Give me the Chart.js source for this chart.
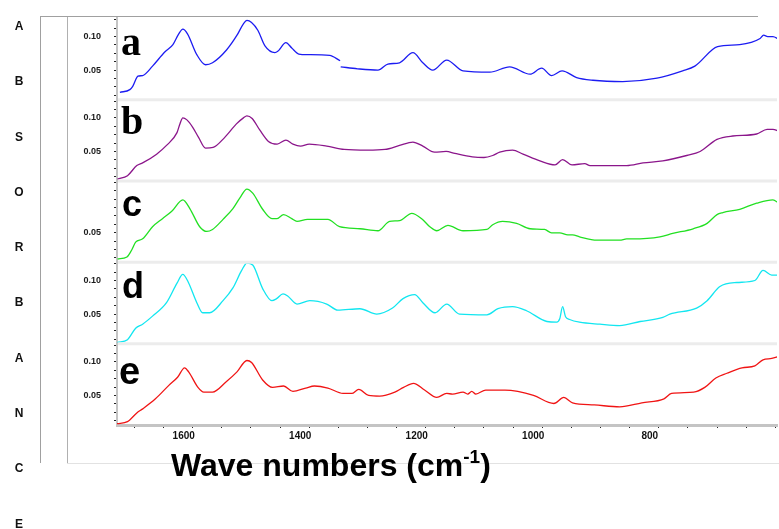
<!DOCTYPE html>
<html>
<head>
<meta charset="utf-8">
<script src="https://cdn.jsdelivr.net/npm/chart.js@4.4.1/dist/chart.umd.min.js"></script>
<style>
  body { margin:0; width:779px; height:529px; position:relative; background:#fff; overflow:hidden; font-family: Arial, "Liberation Sans", sans-serif; }
  #spectra { position:absolute; left:0; top:0; }
  .ln { position:absolute; }
  .panel { position:absolute; font-weight:bold; color:#000; white-space:nowrap; }
  .serif { font-family: "Times New Roman", "Liberation Serif", serif; font-size:40px; line-height:40px; }
  .sans { font-family: Arial, "Liberation Sans", sans-serif; }
  #ylab { position:absolute; left:9px; top:-1px; width:20px; text-align:center; font-weight:bold; font-size:12px; line-height:55.3px; color:#111; }
  #xlab { position:absolute; left:171px; top:449px; font-weight:bold; font-size:32px; line-height:32px; color:#000; white-space:nowrap; }
  #xlab sup { font-size:19px; position:relative; top:-2px; vertical-align:top; line-height:19px; }
</style>
</head>
<body>
<canvas id="spectra" width="779" height="529"></canvas>

<!-- frame lines -->
<div class="ln" style="left:40px;top:16px;width:1px;height:447px;background:#a0a0a0"></div>
<div class="ln" style="left:67px;top:16px;width:1px;height:447px;background:#b0b0b0"></div>
<div class="ln" style="left:40px;top:16px;width:718px;height:1px;background:#a0a0a0"></div>
<div class="ln" style="left:67px;top:463px;width:712px;height:1px;background:#e2e2e2"></div>

<div id="ylab">A<br>B<br>S<br>O<br>R<br>B<br>A<br>N<br>C<br>E</div>

<div class="panel serif" style="left:121px;top:22px">a</div>
<div class="panel serif" style="left:121px;top:101px">b</div>
<div class="panel sans" style="left:122px;top:186px;font-size:36px;line-height:36px">c</div>
<div class="panel sans" style="left:122px;top:268px;font-size:36px;line-height:36px">d</div>
<div class="panel sans" style="left:119px;top:352px;font-size:38px;line-height:38px">e</div>

<div id="xlab">Wave numbers (cm<sup>-1</sup>)</div>

<script>
// wavenumbers (cm-1) and absorbance
var waveA = [1725,1708,1703,1694,1686,1669,1648,1634,1624,1617,1609,1593,1578,1566,1542,1524,1513,1507,1499,1488,1476,1459,1454,1440,1430,1418,1403,1365,1347,1346.5,1346,1317,1282,1265,1245,1222,1205,1188,1164,1136,1090,1056,1021,1001,984,966,941,913,862,803,759,738,699,661,626,620,613,604,594];
var absA  = [0.017,0.021,0.026,0.041,0.042,0.056,0.077,0.088,0.104,0.111,0.104,0.073,0.058,0.061,0.080,0.102,0.119,0.124,0.121,0.109,0.086,0.076,0.078,0.091,0.083,0.074,0.073,0.072,0.064,null,0.055,0.052,0.050,0.059,0.061,0.076,0.061,0.050,0.065,0.049,0.047,0.055,0.044,0.053,0.042,0.049,0.039,0.035,0.033,0.038,0.049,0.056,0.085,0.088,0.097,0.102,0.100,0.100,0.096];

var waveB = [1729,1712,1696,1686,1662,1645,1627,1622,1617,1610,1600,1590,1578,1565,1545,1525,1513,1507,1498,1485,1470,1455,1440,1428,1415,1400,1370,1340,1300,1270,1245,1222,1205,1185,1165,1150,1120,1100,1085,1073,1051,1033,1004,978,965,949,927,918,889,855,827,793,752,729,700,673,632,614,604,594];
var absB  = [0.009,0.014,0.029,0.033,0.046,0.059,0.078,0.091,0.100,0.097,0.086,0.071,0.055,0.056,0.071,0.091,0.100,0.103,0.099,0.082,0.065,0.061,0.067,0.061,0.058,0.061,0.058,0.053,0.052,0.053,0.059,0.064,0.058,0.049,0.050,0.047,0.042,0.041,0.044,0.049,0.052,0.046,0.036,0.030,0.038,0.030,0.032,0.029,0.029,0.029,0.033,0.036,0.044,0.050,0.068,0.073,0.076,0.083,0.083,0.080];

var waveC = [1729,1713,1705,1698,1686,1669,1652,1636,1617,1605,1588,1576,1566,1548,1531,1519,1507,1497,1480,1464,1456,1444,1430,1421,1403,1368,1348,1313,1282,1262,1245,1224,1207,1193,1181,1162,1136,1095,1085,1068,1044,1021,996,984,970,956,948,936,906,867,855,845,798,776,741,717,700,690,661,632,604,594];
var absC  = [0.011,0.014,0.024,0.036,0.041,0.059,0.071,0.082,0.099,0.086,0.059,0.052,0.055,0.070,0.086,0.102,0.115,0.109,0.085,0.071,0.071,0.077,0.071,0.067,0.070,0.070,0.059,0.056,0.053,0.067,0.068,0.079,0.071,0.059,0.053,0.061,0.053,0.055,0.062,0.067,0.064,0.056,0.055,0.050,0.050,0.047,0.047,0.044,0.039,0.039,0.041,0.041,0.044,0.049,0.056,0.064,0.077,0.080,0.085,0.094,0.099,0.094];

var waveD = [1729,1712,1698,1686,1669,1645,1627,1617,1609,1593,1583,1571,1548,1531,1516,1507,1497,1480,1464,1456,1445,1437,1421,1399,1370,1351,1313,1284,1257,1239,1219,1205,1184,1164,1142,1095,1076,1051,1027,992,975,970,965,960,953,936,901,867,832,793,781,735,717,695,666,635,621,606,594];
var absD  = [0.008,0.012,0.029,0.035,0.047,0.067,0.096,0.109,0.100,0.067,0.052,0.052,0.070,0.089,0.115,0.126,0.123,0.088,0.070,0.073,0.080,0.077,0.065,0.070,0.065,0.056,0.058,0.050,0.059,0.073,0.079,0.067,0.052,0.065,0.050,0.049,0.058,0.061,0.055,0.039,0.038,0.043,0.061,0.046,0.042,0.038,0.035,0.033,0.039,0.045,0.050,0.059,0.070,0.091,0.097,0.100,0.115,0.108,0.108];

var waveE = [1730,1712,1696,1686,1664,1641,1626,1614,1607,1591,1581,1566,1543,1524,1507,1499,1480,1463,1444,1428,1406,1391,1368,1342,1327,1315,1298,1279,1253,1238,1221,1202,1181,1164,1154,1136,1128,1121,1114,1097,1064,1042,1015,980,963,948,911,867,829,791,778,740,721,702,683,657,635,621,606,594];
var absE  = [0.008,0.011,0.024,0.030,0.045,0.065,0.077,0.091,0.085,0.062,0.055,0.055,0.070,0.085,0.102,0.099,0.073,0.062,0.064,0.056,0.061,0.064,0.061,0.053,0.053,0.059,0.050,0.049,0.055,0.062,0.068,0.058,0.047,0.053,0.052,0.055,0.052,0.056,0.052,0.058,0.058,0.056,0.050,0.038,0.047,0.039,0.036,0.033,0.039,0.045,0.053,0.055,0.062,0.076,0.083,0.091,0.094,0.103,0.105,0.108];

// tick positions
var xTicks = [600,650,700,750,800,850,900,950,1000,1050,1100,1150,1200,1250,1300,1350,1400,1450,1500,1550,1600,1650,1700];
var xLabels = [800,1000,1200,1400,1600];
var yTicks = [0.0125,0.025,0.0375,0.05,0.0625,0.075,0.0875,0.1,0.1125,0.125];
var yLabels = { ya:[0.05,0.1], yb:[0.05,0.1], yc:[0.05], yd:[0.05,0.1], ye:[0.05,0.1] };

function pts(w, a) {
  return w.map(function (x, i) { return { x: x, y: a[i] }; });
}

function line(w, a, axis, color) {
  return { data: pts(w, a), yAxisID: axis, borderColor: color, backgroundColor: color,
           borderWidth: 1.3, pointRadius: 0, cubicInterpolationMode: 'monotone', fill: false, spanGaps: false };
}

var tickFont = { family: 'Arial, "Liberation Sans", sans-serif', size: 9, weight: 'bold' };

function yScale(id) {
  return {
    type: 'linear', position: 'left', stack: 'panels', stackWeight: 1,
    min: 0.006, max: 0.127,
    border: { color: '#c4c4c4', width: 2 },
    grid: { drawOnChartArea: false, drawTicks: true, tickLength: 3, tickColor: '#222', tickWidth: 1 },
    ticks: {
      padding: 13, autoSkip: false, color: '#1a1a1a', font: tickFont,
      callback: function (v) {
        return yLabels[id].some(function (l) { return Math.abs(l - v) < 1e-6; }) ? v.toFixed(2) : '';
      }
    },
    afterBuildTicks: function (s) { s.ticks = yTicks.map(function (v) { return { value: v }; }); },
    afterFit: function (s) { s.width = 50; }
  };
}

// light bands between the stacked panels
var panelGaps = {
  id: 'panelGaps',
  afterDatasetsDraw: function (chart) {
    var ctx = chart.ctx, area = chart.chartArea;
    ctx.save();
    ctx.strokeStyle = '#ececec';
    ctx.lineWidth = 3;
    ['ya','yb','yc','yd','ye'].forEach(function (id) {
      var s = chart.scales[id];
      if (s.top > area.top + 2) {
        ctx.beginPath();
        ctx.moveTo(area.left + 1, s.top);
        ctx.lineTo(area.right, s.top);
        ctx.stroke();
      }
    });
    ctx.restore();
  }
};

var scales = {
  x: {
    type: 'linear', reverse: true, min: 597, max: 1730,
    border: { color: '#c4c4c4', width: 3 },
    grid: { drawOnChartArea: false, tickLength: 3, tickColor: '#222', tickWidth: 1 },
    ticks: {
      padding: 2, labelOffset: -9, autoSkip: false, maxRotation: 0, color: '#111',
      font: { family: 'Arial, "Liberation Sans", sans-serif', size: 10, weight: 'bold' },
      callback: function (v) { return xLabels.indexOf(v) >= 0 ? String(v) : ''; }
    },
    afterBuildTicks: function (s) { s.ticks = xTicks.map(function (v) { return { value: v }; }); },
    afterFit: function (s) { s.height = 18; }
  }
};
// order decides top-to-bottom placement in the stack
['ye','yd','yc','yb','ya'].forEach(function (id) { scales[id] = yScale(id); });

new Chart(document.getElementById('spectra').getContext('2d'), {
  type: 'line',
  data: {
    datasets: [
      line(waveA, absA, 'ya', '#1c1cf2'),
      line(waveB, absB, 'yb', '#8b168b'),
      line(waveC, absC, 'yc', '#22e022'),
      line(waveD, absD, 'yd', '#12e6f0'),
      line(waveE, absE, 'ye', '#f01414')
    ]
  },
  options: {
    responsive: false,
    animation: false,
    devicePixelRatio: 1,
    layout: { padding: { left: 67, top: 16, right: 2, bottom: 86 } },
    plugins: { legend: { display: false }, tooltip: { enabled: false } },
    scales: scales
  },
  plugins: [panelGaps]
});
</script>
</body>
</html>
